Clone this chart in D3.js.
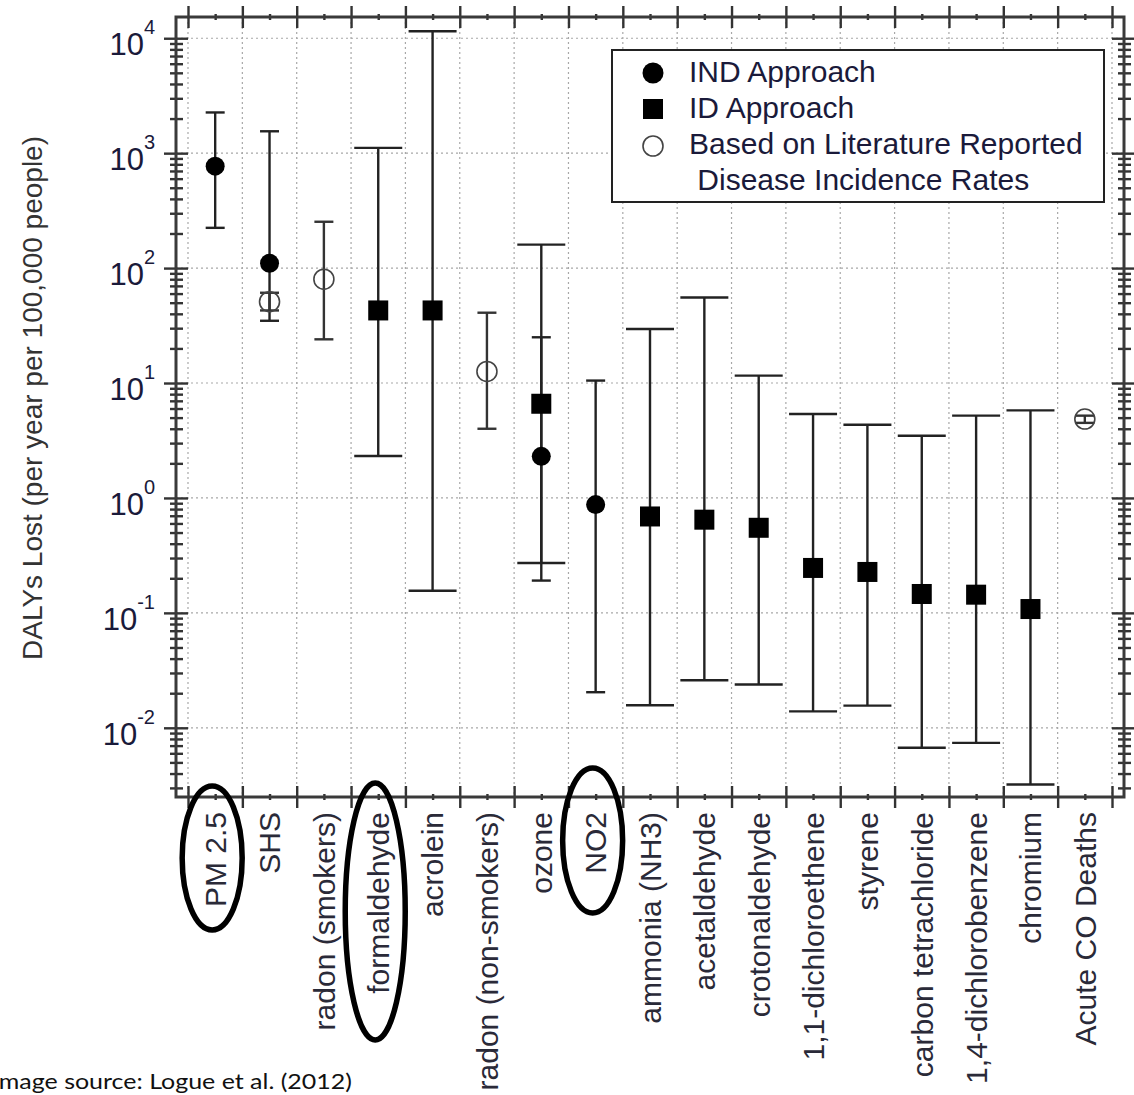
<!DOCTYPE html>
<html>
<head>
<meta charset="utf-8">
<script src="https://cdn.jsdelivr.net/npm/d3@7"></script>
<style>
  body { margin: 0; background: #fff; }
  svg text { font-family: "Liberation Sans", Arial, sans-serif; }
</style>
</head>
<body>
<svg id="chart" width="1134" height="1095"></svg>
<script>
// categories along the x axis
var categories = ["PM 2.5", "SHS", "radon (smokers)", "formaldehyde", "acrolein",
  "radon (non-smokers)", "ozone", "NO2", "ammonia (NH3)", "acetaldehyde",
  "crotonaldehyde", "1,1-dichloroethene", "styrene", "carbon tetrachloride",
  "1,4-dichlorobenzene", "chromium", "Acute CO Deaths"];

// IND approach (filled circles)
var indCats = ["PM 2.5", "SHS", "ozone", "NO2"];
var indMid  = [771, 110, 2.3, 0.875];
var indLow  = [224, 34.8, 0.191, 0.0204];
var indHigh = [2260, 1550, 25, 10.5];

// ID approach (filled squares)
var idCats = ["formaldehyde", "acrolein", "ozone", "ammonia (NH3)", "acetaldehyde",
  "crotonaldehyde", "1,1-dichloroethene", "styrene", "carbon tetrachloride",
  "1,4-dichlorobenzene", "chromium"];
var idMid  = [42.8, 42.8, 6.6, 0.69, 0.647, 0.55, 0.246, 0.227, 0.146, 0.144, 0.108];
var idLow  = [2.32, 0.156, 0.272, 0.0157, 0.0259, 0.0238, 0.0139, 0.0156, 0.0067, 0.0074, 0.00321];
var idHigh = [1112, 11500, 160, 29.5, 55.5, 11.6, 5.37, 4.34, 3.48, 5.2, 5.78];

// literature reported disease incidence rates (open circles)
var litCats = ["SHS", "radon (smokers)", "radon (non-smokers)", "Acute CO Deaths"];
var litMid  = [51, 80, 12.6, 4.86];
var litLow  = [42.8, 24, 4.0, 4.5];
var litHigh = [61, 253, 40.9, 5.2];

var legendLabels = ["IND Approach", "ID Approach", "Based on Literature Reported", " Disease Incidence Rates"];
var circled = ["PM 2.5", "formaldehyde", "NO2"];

var svg = d3.select("#chart");
var L = 176, R = 1124, T = 17, B = 797;

var x = d3.scaleBand().domain(categories).range([188, 1112]);
var xEdge = d3.scaleLinear().domain([0, categories.length]).range([188, 1112]);
var y = d3.scaleLog().domain([0.0025, 15300]).range([B, T]);
function cx(c) { return x(c) + x.bandwidth() / 2; }

var allY = y.ticks();
var majorY = allY.filter(function(v) { var l = Math.log10(v); return Math.abs(l - Math.round(l)) < 1e-9; });
var minorY = allY.filter(function(v) { return majorY.indexOf(v) < 0; });
var edges = d3.range(0, categories.length + 1);
var centers = d3.range(0.5, categories.length, 1);

// dotted grid
var grid = svg.append("g").attr("stroke", "#a8a8a8").attr("stroke-width", 1.2).attr("stroke-dasharray", "2,3");
grid.selectAll(".gy").data(majorY).join("line").attr("class", "gy")
  .attr("x1", L).attr("x2", R).attr("y1", function(d) { return y(d); }).attr("y2", function(d) { return y(d); });
grid.selectAll(".gx").data(edges).join("line").attr("class", "gx")
  .attr("x1", function(d) { return xEdge(d); }).attr("x2", function(d) { return xEdge(d); }).attr("y1", T).attr("y2", B);

// axis ticks on all four sides, crossing the frame
function ticks(axisFn, scale, values, size, tr) {
  svg.append("g").attr("class", "tk").attr("transform", tr)
    .call(axisFn(scale).tickValues(values).tickSize(size).tickFormat(""))
    .call(function(g) { g.select(".domain").remove(); });
}
[L, R].forEach(function(px) {
  ticks(d3.axisLeft, y, majorY, 12, "translate(" + px + ",0)");
  ticks(d3.axisRight, y, majorY, 12, "translate(" + px + ",0)");
  ticks(d3.axisLeft, y, minorY, 6, "translate(" + px + ",0)");
  ticks(d3.axisRight, y, minorY, 7, "translate(" + px + ",0)");
});
[T, B].forEach(function(py) {
  ticks(d3.axisTop, xEdge, edges, 11, "translate(0," + py + ")");
  ticks(d3.axisBottom, xEdge, edges, 11, "translate(0," + py + ")");
  ticks(d3.axisTop, xEdge, centers, 3, "translate(0," + py + ")");
  ticks(d3.axisBottom, xEdge, centers, 3, "translate(0," + py + ")");
});
svg.selectAll(".tk line").attr("stroke", "#333").attr("stroke-width", 2.4);

svg.append("rect").attr("x", L).attr("y", T).attr("width", R - L).attr("height", B - T)
  .attr("fill", "none").attr("stroke", "#3a3a3a").attr("stroke-width", 3);

// y tick labels 10^n
var ylab = svg.append("g").selectAll("text").data(majorY).join("text")
  .attr("x", 155).attr("y", function(d) { return y(d) + 17; })
  .attr("text-anchor", "end").attr("font-size", 31).attr("fill", "#1a1a3a");
ylab.append("tspan").text("10");
ylab.append("tspan").attr("dy", -21).attr("font-size", 20).text(function(d) { return Math.round(Math.log10(d)); });

svg.append("text").attr("transform", "translate(42,398) rotate(-90)")
  .attr("text-anchor", "middle").attr("font-size", 28).attr("fill", "#333")
  .text("DALYs Lost (per year per 100,000 people)");

// category labels
svg.append("g").selectAll("text").data(categories).join("text")
  .attr("transform", function(d) { return "translate(" + cx(d) + ",812) rotate(-90)"; })
  .attr("text-anchor", "end").attr("dy", "0.36em").attr("font-size", 30).attr("fill", "#2a2a38")
  .text(function(d) { return d; });

// error bars
function errorBars(cats, low, high, capHalf, stroke) {
  var g = svg.append("g").attr("stroke", stroke).attr("stroke-width", 2.4);
  g.selectAll(".v").data(cats).join("line").attr("class", "v")
    .attr("x1", cx).attr("x2", cx)
    .attr("y1", function(d, i) { return y(low[i]); }).attr("y2", function(d, i) { return y(high[i]); });
  [low, high].forEach(function(arr) {
    g.selectAll(null).data(cats).join("line")
      .attr("x1", function(d) { return cx(d) - capHalf; }).attr("x2", function(d) { return cx(d) + capHalf; })
      .attr("y1", function(d, i) { return y(arr[i]); }).attr("y2", function(d, i) { return y(arr[i]); });
  });
}
errorBars(idCats, idLow, idHigh, 24, "#222");
errorBars(indCats, indLow, indHigh, 9.5, "#222");
errorBars(litCats, litLow, litHigh, 9.5, "#333");

svg.append("g").selectAll("rect").data(idCats).join("rect")
  .attr("x", function(d) { return cx(d) - 10; }).attr("y", function(d, i) { return y(idMid[i]) - 10; })
  .attr("width", 20).attr("height", 20).attr("fill", "#000");
svg.append("g").selectAll("circle").data(indCats).join("circle")
  .attr("cx", cx).attr("cy", function(d, i) { return y(indMid[i]); })
  .attr("r", 9.5).attr("fill", "#000");
svg.append("g").selectAll("circle").data(litCats).join("circle")
  .attr("cx", cx).attr("cy", function(d, i) { return y(litMid[i]); })
  .attr("r", 10).attr("fill", "none").attr("stroke", "#444").attr("stroke-width", 1.6);

// legend
var lg = svg.append("g");
lg.append("rect").attr("x", 612).attr("y", 50).attr("width", 492).attr("height", 152)
  .attr("fill", "#fff").attr("stroke", "#222").attr("stroke-width", 2);
lg.append("circle").attr("cx", 653).attr("cy", 73).attr("r", 10.5).attr("fill", "#000");
lg.append("rect").attr("x", 643).attr("y", 99).attr("width", 20).attr("height", 20).attr("fill", "#000");
lg.append("circle").attr("cx", 653).attr("cy", 146).attr("r", 10).attr("fill", "none").attr("stroke", "#444").attr("stroke-width", 1.6);
lg.selectAll("text").data(legendLabels).join("text")
  .attr("x", 689).attr("y", function(d, i) { return 82 + i * 36; })
  .attr("font-size", 30).attr("fill", "#1a1a3a").attr("xml:space", "preserve")
  .style("white-space", "pre")
  .text(function(d) { return d; });

// hand-drawn ellipses around highlighted labels
var ellipseSpan = {"PM 2.5": [786, 930], "formaldehyde": [783, 1040], "NO2": [768, 913]};
svg.append("g").selectAll("ellipse").data(circled).join("ellipse")
  .attr("cx", function(d) { return cx(d) - 3; })
  .attr("cy", function(d) { return (ellipseSpan[d][0] + ellipseSpan[d][1]) / 2; })
  .attr("rx", 30)
  .attr("ry", function(d) { return (ellipseSpan[d][1] - ellipseSpan[d][0]) / 2; })
  .attr("fill", "none").attr("stroke", "#000").attr("stroke-width", 5.5);

svg.append("text").attr("x", -8).attr("y", 1089)
  .attr("font-size", 21).attr("fill", "#111")
  .style("font-family", "Lato, 'Open Sans', sans-serif")
  .attr("textLength", 360).attr("lengthAdjust", "spacingAndGlyphs")
  .text("Image source: Logue et al. (2012)");
</script>
</body>
</html>
